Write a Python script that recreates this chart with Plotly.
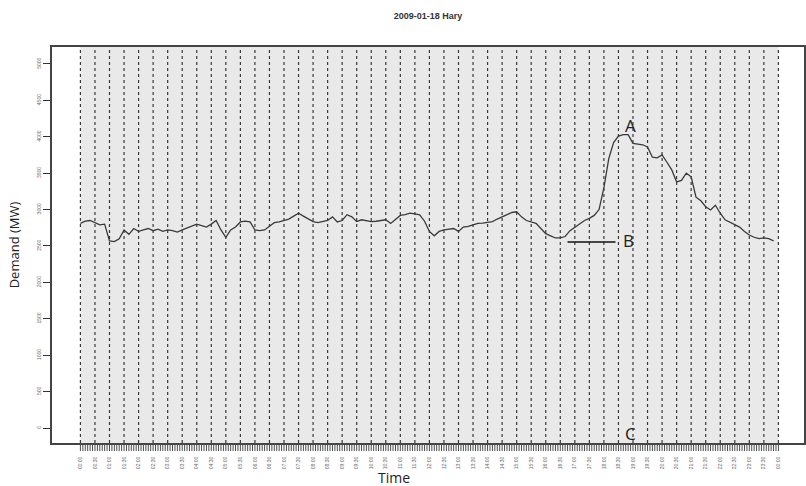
import pandas as pd
import plotly.graph_objects as go

# ---- data ----
title_text = "2009-01-18 Hary"
start_time = "2009-01-18 00:00"
sample_minutes = 10
demand_mw = [
    2810, 2840, 2850, 2820, 2790, 2800, 2570, 2560, 2600, 2720,
    2660, 2740, 2700, 2720, 2740, 2710, 2730, 2700, 2720, 2710,
    2690, 2720, 2750, 2770, 2800, 2780, 2760, 2800, 2850, 2720,
    2620, 2720, 2760, 2830, 2840, 2830, 2720, 2710, 2720, 2770,
    2820, 2830, 2850, 2870, 2910, 2950, 2910, 2870, 2835, 2820,
    2830, 2850, 2900, 2830, 2850, 2930, 2900, 2835, 2860, 2850,
    2835, 2840, 2850, 2860, 2810, 2870, 2920, 2930, 2950, 2940,
    2927, 2840, 2700, 2640, 2700, 2720, 2730, 2740, 2700, 2760,
    2770, 2790, 2810, 2815, 2825, 2835, 2870, 2900, 2930, 2960,
    2970, 2900, 2850, 2830, 2810, 2740, 2670, 2640, 2610, 2610,
    2630, 2710, 2760, 2800, 2850, 2880, 2920, 3000, 3300, 3700,
    3920, 4010, 4030, 4030, 3910, 3900, 3890, 3860, 3720, 3710,
    3750, 3650, 3545, 3380, 3400, 3500, 3450, 3170, 3120, 3040,
    2995, 3060, 2950, 2860, 2830, 2800, 2760, 2700, 2650, 2620,
    2600, 2610, 2600, 2570,
]
x_tick_labels = [
    "00:00", "00:30", "01:00", "01:30", "02:00", "02:30", "03:00", "03:30",
    "04:00", "04:30", "05:00", "05:30", "06:00", "06:30", "07:00", "07:30",
    "08:00", "08:30", "09:00", "09:30", "10:00", "10:30", "11:00", "11:30",
    "12:00", "12:30", "13:00", "13:30", "14:00", "14:30", "15:00", "15:30",
    "16:00", "16:30", "17:00", "17:30", "18:00", "18:30", "19:00", "19:30",
    "20:00", "20:30", "21:00", "21:30", "22:00", "22:30", "23:00", "23:30",
    "00:00",
]
y_tick_values = [0, 500, 1000, 1500, 2000, 2500, 3000, 3500, 4000, 4500, 5000]
y_tick_labels = ["0", "500", "1000", "1500", "2000", "2500", "3000", "3500", "4000", "4500", "5000"]
marker_letters = ["A", "B", "C"]
marker_times = ["2009-01-18 18:55", "2009-01-18 18:50", "2009-01-18 18:55"]
marker_values = [4150, 2580, -80]
b_line_times = ["2009-01-18 16:45", "2009-01-18 18:24"]
b_line_value = 2555

# ---- derived ----
t0 = pd.Timestamp(start_time)
times = pd.date_range(t0, periods=len(demand_mw), freq=f"{sample_minutes}min")
major_ticks = pd.date_range(t0, periods=len(x_tick_labels), freq="30min")
fine_ticks = pd.date_range(t0, major_ticks[-1], freq="5min")
y_range = [-206, 5233]
x_range = [t0 - pd.Timedelta(hours=0.977), t0 + pd.Timedelta(hours=24.88)]
strip_frac = 8 / 404  # height of the tick strip under the axis
x_span = (x_range[1] - x_range[0]).total_seconds()

fig = go.Figure()
fig.add_trace(go.Scatter(
    x=times, y=demand_mw, mode="lines",
    line=dict(color="#3a3a3a", width=1.3), showlegend=False, hoverinfo="skip",
))
fig.add_trace(go.Scatter(
    x=[pd.Timestamp(t) for t in b_line_times], y=[b_line_value, b_line_value],
    mode="lines", line=dict(color="#111111", width=1.6), showlegend=False,
))

# light grey background over the 24h span
fig.add_shape(type="rect", xref="x", yref="y domain",
              x0=major_ticks[0], x1=major_ticks[-1], y0=0, y1=1,
              fillcolor="#e9e9e9", line=dict(width=0), layer="below")
# half-hour dotted grid lines
for t in major_ticks:
    fig.add_shape(type="line", xref="x", yref="y domain", x0=t, x1=t, y0=0, y1=1,
                  line=dict(color="#383838", width=1.2, dash="dot"), layer="below")
# dense 5-minute tick strip under the axis (paper coordinates, not clipped)
for t in fine_ticks:
    fx = (t - x_range[0]).total_seconds() / x_span
    fig.add_shape(type="line", xref="paper", yref="paper", x0=fx, x1=fx,
                  y0=0, y1=strip_frac, line=dict(color="#4a4a4a", width=1))

for letter, t, v in zip(marker_letters, marker_times, marker_values):
    fig.add_annotation(x=pd.Timestamp(t), y=v, text=letter, showarrow=False,
                       font=dict(size=17, color="#222222", family="Open Sans"))

fig.add_annotation(xref="paper", yref="paper", x=0.455, y=-0.037, yanchor="top",
                   text="Time", showarrow=False,
                   font=dict(size=14, color="#222222", family="Open Sans"))

fig.update_layout(
    width=806, height=486,
    margin=dict(l=52, r=0, t=47, b=35),
    paper_bgcolor="white", plot_bgcolor="white",
    font=dict(family="Liberation Sans", color="#333333"),
    title=dict(text="<b>" + title_text + "</b>", xref="paper", x=0.5, xanchor="center",
               y=0.967, yanchor="middle", font=dict(size=9, color="#333333")),
    xaxis=dict(
        type="date", range=x_range, anchor="y",
        tickmode="array", tickvals=list(major_ticks), ticktext=x_tick_labels,
        tickangle=-90, tickfont=dict(size=5, color="#666666"),
        ticks="outside", ticklen=10, tickcolor="rgba(0,0,0,0)", tickwidth=1,
        showgrid=False,
        showline=True, linecolor="#444444", linewidth=1.5, mirror=True,
        zeroline=False,
    ),
    yaxis=dict(
        domain=[strip_frac, 1],
        range=y_range,
        tickmode="array", tickvals=y_tick_values, ticktext=y_tick_labels,
        tickangle=-90, tickfont=dict(size=5, color="#666666"),
        ticks="outside", ticklen=7, tickcolor="#333333",
        showgrid=False, zeroline=False,
        showline=True, linecolor="#444444", linewidth=1.5, mirror=True,
        title=dict(text="Demand (MW)", standoff=14,
                   font=dict(size=13, color="#222222", family="Open Sans")),
    ),
)

fig.write_html("out.html", config={"displayModeBar": False},
               post_script="document.body.style.margin='0';")
